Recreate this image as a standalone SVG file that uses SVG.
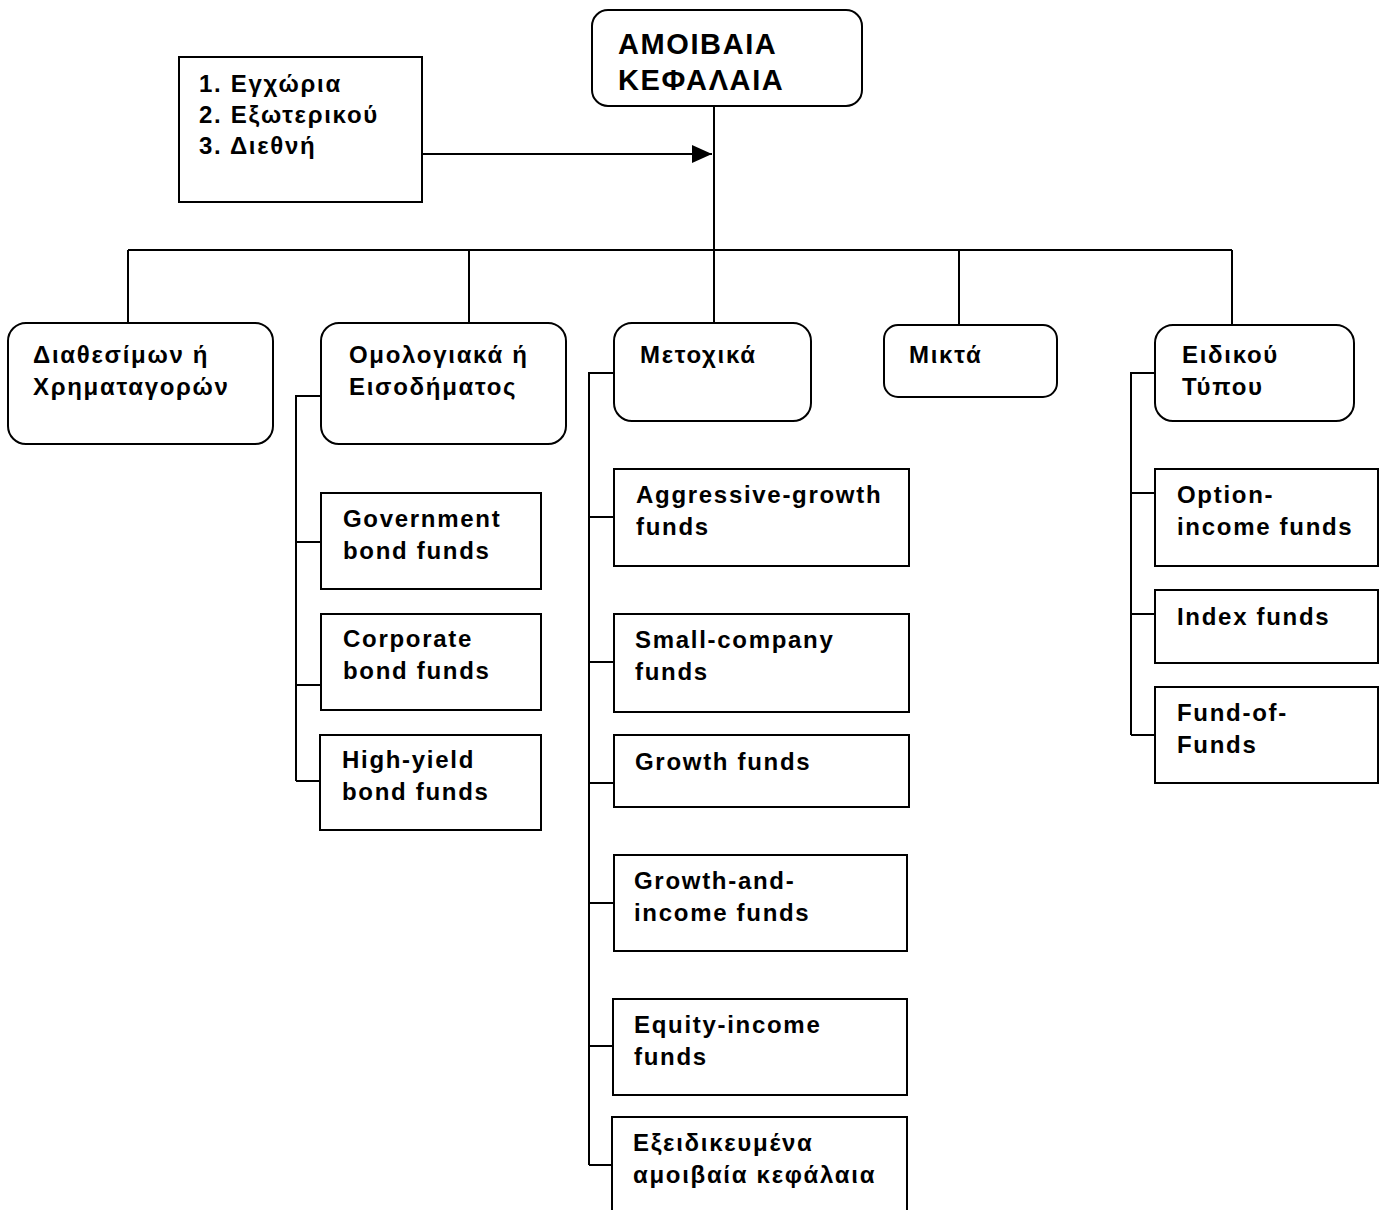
<svg xmlns="http://www.w3.org/2000/svg" width="1382" height="1210" viewBox="0 0 1382 1210">
<style>
.t{font-family:"Liberation Sans",Arial,sans-serif;font-weight:bold;font-size:24px;letter-spacing:1.7px;fill:#000}
.h{font-size:29px;letter-spacing:1.6px}
.b{fill:#fff;stroke:#000;stroke-width:2}
.c{fill:none;stroke:#000;stroke-width:2}
</style>
<defs>
<marker id="ar" markerWidth="20" markerHeight="18" refX="20" refY="9" orient="auto" markerUnits="userSpaceOnUse">
<path d="M0,0 L20,9 L0,18 Z" fill="#000"/>
</marker>
</defs>
<rect width="1382" height="1210" fill="#fff"/>
<g id="connectors">
<path class="c" d="M714,106 V250"/>
<path class="c" d="M422,154 H712" marker-end="url(#ar)"/>
<path class="c" d="M128,250 H1232 M128,250 V323 M469,250 V323 M714,250 V323 M959,250 V325 M1232,250 V325"/>
<path class="c" d="M321,396 H296 V781 M296,542 H321 M296,685 H321 M296,781 H321"/>
<path class="c" d="M614,373 H589 V1165 M589,517 H614 M589,662 H614 M589,783 H614 M589,903 H614 M589,1046 H614 M589,1165 H614"/>
<path class="c" d="M1155,373 H1131 V735 M1131,493 H1155 M1131,614 H1155 M1131,735 H1155"/>
</g>
<g id="root"><rect class="b" x="592" y="10" width="270" height="96" rx="16"/>
<text class="t h" x="618" y="54">ΑΜΟΙΒΑΙΑ</text><text class="t h" x="618" y="90">ΚΕΦΑΛΑΙΑ</text></g>
<g id="origin"><rect class="b" x="179" y="57" width="243" height="145"/>
<text class="t" x="199" y="92">1. Εγχώρια</text><text class="t" x="199" y="123">2. Εξωτερικού</text><text class="t" x="199" y="154">3. Διεθνή</text></g>
<g id="money"><rect class="b" x="8" y="323" width="265" height="121" rx="18"/>
<text class="t" x="33" y="363">Διαθεσίμων ή</text><text class="t" x="33" y="395">Χρηματαγορών</text></g>
<g id="bond"><rect class="b" x="321" y="323" width="245" height="121" rx="18"/>
<text class="t" x="349" y="363">Ομολογιακά ή</text><text class="t" x="349" y="395">Εισοδήματος</text></g>
<g id="equity"><rect class="b" x="614" y="323" width="197" height="98" rx="18"/>
<text class="t" x="640" y="363">Μετοχικά</text></g>
<g id="mixed"><rect class="b" x="884" y="325" width="173" height="72" rx="14"/>
<text class="t" x="909" y="363">Μικτά</text></g>
<g id="special"><rect class="b" x="1155" y="325" width="199" height="96" rx="18"/>
<text class="t" x="1182" y="363">Ειδικού</text><text class="t" x="1182" y="395">Τύπου</text></g>
<g id="gov"><rect class="b" x="321" y="493" width="220" height="96"/>
<text class="t" x="343" y="527">Government</text><text class="t" x="343" y="559">bond funds</text></g>
<g id="corp"><rect class="b" x="321" y="614" width="220" height="96"/>
<text class="t" x="343" y="647">Corporate</text><text class="t" x="343" y="679">bond funds</text></g>
<g id="hy"><rect class="b" x="320" y="735" width="221" height="95"/>
<text class="t" x="342" y="768">High-yield</text><text class="t" x="342" y="800">bond funds</text></g>
<g id="aggr"><rect class="b" x="614" y="469" width="295" height="97"/>
<text class="t" x="636" y="503">Aggressive-growth</text><text class="t" x="636" y="535">funds</text></g>
<g id="small"><rect class="b" x="614" y="614" width="295" height="98"/>
<text class="t" x="635" y="648">Small-company</text><text class="t" x="635" y="680">funds</text></g>
<g id="growth"><rect class="b" x="614" y="735" width="295" height="72"/>
<text class="t" x="635" y="770">Growth funds</text></g>
<g id="gi"><rect class="b" x="614" y="855" width="293" height="96"/>
<text class="t" x="634" y="889">Growth-and-</text><text class="t" x="634" y="921">income funds</text></g>
<g id="ei"><rect class="b" x="613" y="999" width="294" height="96"/>
<text class="t" x="634" y="1033">Equity-income</text><text class="t" x="634" y="1065">funds</text></g>
<g id="spec"><rect class="b" x="612" y="1117" width="295" height="110"/>
<text class="t" x="633" y="1151">Εξειδικευμένα</text><text class="t" x="633" y="1183">αμοιβαία κεφάλαια</text></g>
<g id="opt"><rect class="b" x="1155" y="469" width="223" height="97"/>
<text class="t" x="1177" y="503">Option-</text><text class="t" x="1177" y="535">income funds</text></g>
<g id="index"><rect class="b" x="1155" y="590" width="223" height="73"/>
<text class="t" x="1177" y="625">Index funds</text></g>
<g id="fof"><rect class="b" x="1155" y="687" width="223" height="96"/>
<text class="t" x="1177" y="721">Fund-of-</text><text class="t" x="1177" y="753">Funds</text></g>
</svg>
